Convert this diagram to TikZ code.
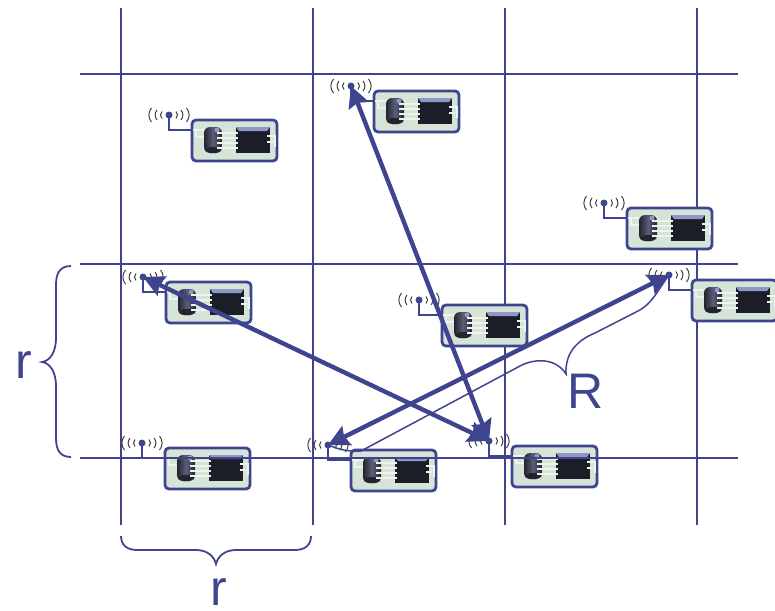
\documentclass[tikz,border=0pt]{standalone}
\usepackage{fontspec}
\setmainfont{Liberation Sans}
\usetikzlibrary{arrows.meta}
\definecolor{ink}{HTML}{3F448F}
\definecolor{pcb}{HTML}{D6E4D7}
\definecolor{trace}{HTML}{EEF3EE}
\definecolor{chipk}{HTML}{1C1E27}
\definecolor{band}{HTML}{8F96C8}
\definecolor{micd}{HTML}{23242E}
\definecolor{micm}{HTML}{5A5E78}
\tikzset{
  x=1pt,y=-1pt,
  grid line/.style={draw=ink,line width=2pt},
  link/.style={draw=ink,line width=4.4pt,{Stealth[length=21pt,width=21pt,inset=3pt]}-{Stealth[length=21pt,width=21pt,inset=3pt]}},
  brace/.style={draw=ink,line width=1.8pt},
  label/.style={text=ink,font=\fontsize{50}{50}\selectfont,inner sep=0pt},
  dotn/.style={circle,fill=ink,inner sep=0pt,minimum size=7pt},
  arc line/.style={draw=black!75,line width=1pt},
  board/.pic={
    \draw[ink,line width=2pt] (0,0) -- (0,15) -- (23,15);
    \draw[draw=ink,fill=pcb,line width=2.8pt,rounded corners=4pt] (23,5) rectangle (108,46);
    \draw[trace,line width=1.5pt] (24,15) -- (35,15) (27,15) -- (27,22) -- (35,22)
      (53,18) -- (67,18) (53,23) -- (67,23) (53,28) -- (67,28) (53,33) -- (67,33)
      (101,21) -- (106,21) -- (106,32) (101,27) -- (104,27);
    \shade[left color=micd,right color=micd,middle color=micm,rounded corners=6pt] (35,12) rectangle (53,38);
    \fill[micd,rounded corners=5pt] (36,32) rectangle (52,38);
    \fill[band] (48,15) circle (2.5pt);
    \fill[chipk] (67,12) rectangle (101,38);
    \fill[band] (67,12) -- (101,12) -- (98,16) -- (70,16) -- cycle;
    \draw[trace,line width=1.4pt] (48,18) -- (55,18) (48,23) -- (55,23) (48,28) -- (55,28) (48,33) -- (55,33)
      (66,18) -- (69,18) (66,23) -- (69,23) (66,28) -- (69,28) (66,33) -- (69,33)
      (98,21) -- (102,21) (98,27) -- (102,27);
    \foreach \s in {-1,1}{
      \draw[arc line] (\s*7,-3.5) .. controls (\s*9,-1.5) and (\s*9,1.5) .. (\s*7,3.5);
      \draw[arc line] (\s*12,-5) .. controls (\s*14.5,-2) and (\s*14.5,2) .. (\s*12,5);
      \draw[arc line] (\s*17.5,-7) .. controls (\s*21,-3) and (\s*21,3) .. (\s*17.5,7);
    }
  }
}
\begin{document}
\begin{tikzpicture}
\useasboundingbox (0,0) rectangle (775,610);
% grid
\coordinate (v1t) at (121,8); \coordinate (v1b) at (121,525);
\coordinate (v2t) at (313,8); \coordinate (v2b) at (313,525);
\coordinate (v3t) at (505,8); \coordinate (v3b) at (505,525);
\coordinate (v4t) at (697,8); \coordinate (v4b) at (697,525);
\coordinate (h1l) at (80,74);  \coordinate (h1r) at (738,74);
\coordinate (h2l) at (80,264); \coordinate (h2r) at (738,264);
\coordinate (h3l) at (80,458); \coordinate (h3r) at (738,458);
\draw[grid line] (v1t) -- (v1b);
\draw[grid line] (v2t) -- (v2b);
\draw[grid line] (v3t) -- (v3b);
\draw[grid line] (v4t) -- (v4b);
\draw[grid line] (h1l) -- (h1r);
\draw[grid line] (h2l) -- (h2r);
% boards
\foreach \n/\px/\py in {a1/169/115,a2/351/86,a3/604/203,a4/143/277,a5/419/300,a6/669/275,a7/142/443,a8/328/445,a9/489/441}{
  \pic at (\px,\py) {board};
  \node[dotn] (\n) at (\px,\py) {};
}
\draw[grid line] (h3l) -- (h3r);
% links
\draw[link] (a2.center) -- (a9.center);
\draw[link] (a4.center) -- (a9.center);
\draw[link] (a6.center) -- (a8.center);
% R brace
\coordinate (rt) at (566,374);
\draw[draw=ink,line width=1.5pt] (a8.center) .. controls (336,448) and (345,452) .. (361,451)
  -- (520,366) .. controls (535,358) and (556,358) .. (rt)
  .. controls (565,352) and (578,340) .. (595,333)
  -- (638,311) .. controls (652,304) and (658,290) .. (a6.center);
% left brace
\coordinate (bl1) at (71,266); \coordinate (bl2) at (42,362); \coordinate (bl3) at (71,457);
\draw[brace] (bl1) .. controls (60,266) and (56,273) .. (56,285) -- (56,338)
  .. controls (56,352) and (50,361) .. (bl2) .. controls (50,363) and (56,372) .. (56,386)
  -- (56,438) .. controls (56,450) and (60,457) .. (bl3);
% bottom brace
\coordinate (bb1) at (121,536); \coordinate (bb2) at (216,564); \coordinate (bb3) at (311,536);
\draw[brace] (bb1) .. controls (121,545) and (127,550) .. (137,550) -- (196,550)
  .. controls (207,550) and (214,556) .. (bb2) .. controls (218,556) and (225,550) .. (236,550)
  -- (295,550) .. controls (305,550) and (311,545) .. (bb3);
% labels
\node[label] (rleft) at (24,365) {r};
\node[label] (rbottom) at (219,592) {r};
\node[label] (rbig) at (586,391) {R};
\end{tikzpicture}
\end{document}
